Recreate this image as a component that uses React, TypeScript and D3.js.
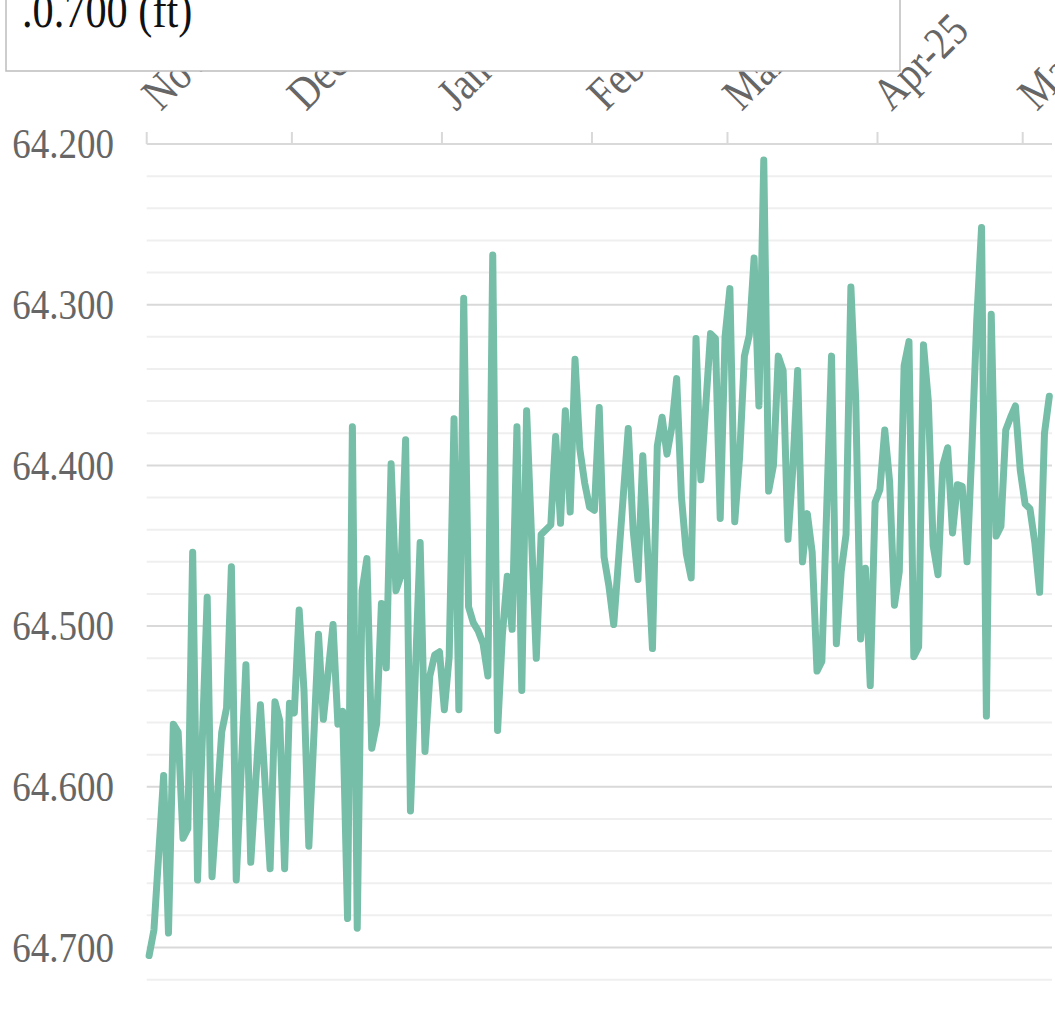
import * as d3 from 'd3';
import { useEffect, useRef } from 'react';

// daily readings (only the days that show as vertices in the source)
const dates: string[] = [
    "2024-11-01", "2024-11-02", "2024-11-04", "2024-11-05", "2024-11-06", "2024-11-07", "2024-11-08", "2024-11-09",
    "2024-11-10", "2024-11-11", "2024-11-13", "2024-11-14", "2024-11-16", "2024-11-17", "2024-11-18", "2024-11-19",
    "2024-11-21", "2024-11-22", "2024-11-24", "2024-11-26", "2024-11-27", "2024-11-28", "2024-11-29", "2024-11-30",
    "2024-12-01", "2024-12-02", "2024-12-03", "2024-12-04", "2024-12-06", "2024-12-07", "2024-12-09", "2024-12-10",
    "2024-12-11", "2024-12-12", "2024-12-13", "2024-12-14", "2024-12-15", "2024-12-16", "2024-12-17", "2024-12-18",
    "2024-12-19", "2024-12-20", "2024-12-21", "2024-12-22", "2024-12-23", "2024-12-24", "2024-12-25", "2024-12-26",
    "2024-12-27", "2024-12-28", "2024-12-29", "2024-12-30", "2024-12-31",
    "2025-01-01", "2025-01-02", "2025-01-03", "2025-01-04", "2025-01-05", "2025-01-06", "2025-01-07", "2025-01-08",
    "2025-01-09", "2025-01-10", "2025-01-11", "2025-01-12", "2025-01-13", "2025-01-14", "2025-01-15", "2025-01-16",
    "2025-01-17", "2025-01-18", "2025-01-20", "2025-01-21", "2025-01-23", "2025-01-24", "2025-01-25", "2025-01-26",
    "2025-01-27", "2025-01-28", "2025-01-29", "2025-01-30", "2025-01-31",
    "2025-02-01", "2025-02-02", "2025-02-03", "2025-02-04", "2025-02-05", "2025-02-08", "2025-02-09", "2025-02-10",
    "2025-02-11", "2025-02-13", "2025-02-14", "2025-02-15", "2025-02-16", "2025-02-17", "2025-02-18", "2025-02-19",
    "2025-02-20", "2025-02-21", "2025-02-22", "2025-02-23", "2025-02-25", "2025-02-26", "2025-02-27", "2025-02-28",
    "2025-03-01", "2025-03-02", "2025-03-03", "2025-03-04", "2025-03-05", "2025-03-06", "2025-03-07", "2025-03-08",
    "2025-03-09", "2025-03-10", "2025-03-11", "2025-03-12", "2025-03-13", "2025-03-14", "2025-03-15", "2025-03-16",
    "2025-03-17", "2025-03-18", "2025-03-19", "2025-03-20", "2025-03-22", "2025-03-23", "2025-03-24", "2025-03-25",
    "2025-03-26", "2025-03-27", "2025-03-28", "2025-03-29", "2025-03-30", "2025-03-31",
    "2025-04-01", "2025-04-02", "2025-04-03", "2025-04-04", "2025-04-05", "2025-04-06", "2025-04-07", "2025-04-08",
    "2025-04-09", "2025-04-10", "2025-04-11", "2025-04-12", "2025-04-13", "2025-04-14", "2025-04-15", "2025-04-16",
    "2025-04-17", "2025-04-18", "2025-04-19", "2025-04-20", "2025-04-21", "2025-04-22", "2025-04-23", "2025-04-24",
    "2025-04-25", "2025-04-26", "2025-04-27", "2025-04-28", "2025-04-29", "2025-04-30",
    "2025-05-01", "2025-05-02", "2025-05-03", "2025-05-04", "2025-05-05", "2025-05-06",
];

// depth to water (ft)
const levels: number[] = [
    64.705, 64.689, 64.593, 64.691, 64.561, 64.566, 64.632, 64.626,
    64.454, 64.658, 64.482, 64.656, 64.566, 64.551, 64.463, 64.658,
    64.524, 64.647, 64.549, 64.651, 64.547, 64.559, 64.651, 64.548,
    64.554, 64.490, 64.540, 64.637, 64.505, 64.558, 64.499, 64.561,
    64.553, 64.682, 64.376, 64.688, 64.478, 64.458, 64.576, 64.561,
    64.486, 64.526, 64.399, 64.478, 64.469, 64.384, 64.615, 64.530,
    64.448, 64.578, 64.531, 64.518, 64.516,
    64.552, 64.519, 64.371, 64.552, 64.296, 64.488, 64.498, 64.503,
    64.511, 64.531, 64.269, 64.565, 64.505, 64.469, 64.502, 64.376,
    64.540, 64.366, 64.520, 64.443, 64.437, 64.382, 64.436, 64.366,
    64.429, 64.334, 64.390, 64.411, 64.426,
    64.428, 64.364, 64.457, 64.475, 64.499, 64.377, 64.440, 64.471,
    64.394, 64.514, 64.388, 64.370, 64.393, 64.376, 64.346, 64.420,
    64.455, 64.470, 64.321, 64.409, 64.318, 64.321, 64.433, 64.320,
    64.290, 64.435, 64.395, 64.332, 64.319, 64.271, 64.363, 64.210,
    64.416, 64.400, 64.332, 64.341, 64.446, 64.402, 64.341, 64.460,
    64.430, 64.454, 64.528, 64.522, 64.332, 64.511, 64.466, 64.443,
    64.289, 64.359, 64.508, 64.464, 64.537, 64.423,
    64.415, 64.378, 64.410, 64.487, 64.466, 64.338, 64.323, 64.519,
    64.513, 64.325, 64.360, 64.450, 64.468, 64.400, 64.389, 64.442,
    64.412, 64.413, 64.460, 64.390, 64.310, 64.252, 64.556, 64.306,
    64.444, 64.438, 64.378, 64.370, 64.363, 64.403,
    64.424, 64.427, 64.448, 64.479, 64.380, 64.357,
];

const monthLabels: string[] = ["Nov-24", "Dec-24", "Jan-25", "Feb-25", "Mar-25", "Apr-25", "May-25"];
const yTicks: number[] = [64.2, 64.3, 64.4, 64.5, 64.6, 64.7];
const tooltipText = ".0.700 (ft)";

const font = '"Liberation Serif", "Times New Roman", serif';

const App = () => {
    const ref = useRef<SVGSVGElement>(null);

    useEffect(() => {
        const width = 1055;
        const height = 1031;
        const left = 146.7;
        const right = 1052;

        const svg = d3.select(ref.current);
        svg.selectAll('*').remove();
        svg.attr('width', width).attr('height', height);

        const parse = d3.timeParse('%Y-%m-%d');
        const data = dates.map((d, i) => ({ date: d3.timeHour.offset(parse(d) as Date, 12), value: levels[i] }));

        const x = d3.scaleTime()
            .domain([new Date(2024, 10, 1), new Date(2025, 4, 1)])
            .range([left, 1022.7]);
        const y = d3.scaleLinear().domain([64.2, 64.7]).range([144, 947.5]);

        // grid lines, minor every 0.02 and major every 0.1
        const grid = d3.range(0, 27).map(i => +(64.2 + i * 0.02).toFixed(2));
        svg.append('g')
            .selectAll('line')
            .data(grid)
            .enter()
            .append('line')
            .attr('x1', left)
            .attr('x2', right)
            .attr('y1', (d: number) => y(d))
            .attr('y2', (d: number) => y(d))
            .attr('stroke', (d: number) => (Math.round(d * 100) % 10 === 0 ? '#d9d9d9' : '#efefef'))
            .attr('stroke-width', 2);

        // month ticks on top axis
        const months = d3.timeMonth.range(new Date(2024, 10, 1), new Date(2025, 4, 2));
        svg.append('g')
            .selectAll('line')
            .data(months)
            .enter()
            .append('line')
            .attr('x1', (d: Date) => x(d))
            .attr('x2', (d: Date) => x(d))
            .attr('y1', 132)
            .attr('y2', 144)
            .attr('stroke', '#d9d9d9')
            .attr('stroke-width', 2);

        svg.append('g')
            .selectAll('text')
            .data(months)
            .enter()
            .append('text')
            .attr('transform', (d: Date) => `translate(${x(d) + 14},112) rotate(-45) scale(0.93,1.1)`)
            .text((d: Date, i: number) => monthLabels[i])
            .style('font-family', font)
            .style('font-size', '42px')
            .style('fill', '#666');

        // y labels
        svg.append('g')
            .selectAll('text')
            .data(yTicks)
            .enter()
            .append('text')
            .attr('transform', (d: number) => `translate(114,${y(d)}) scale(0.95,1.08)`)
            .attr('dy', '0.34em')
            .attr('text-anchor', 'end')
            .text((d: number) => d3.format('.3f')(d))
            .style('font-family', font)
            .style('font-size', '39px')
            .style('fill', '#666');

        const line = d3.line<any>()
            .x((d: any) => x(d.date))
            .y((d: any) => y(d.value));

        svg.append('path')
            .datum(data)
            .attr('d', line)
            .attr('fill', 'none')
            .attr('stroke', '#76bea7')
            .attr('stroke-width', 7)
            .attr('stroke-linejoin', 'round')
            .attr('stroke-linecap', 'round');

        // tooltip box (cut at the top of the page)
        svg.append('rect')
            .attr('x', 6)
            .attr('y', -10)
            .attr('width', 894)
            .attr('height', 81)
            .attr('fill', '#fff')
            .attr('stroke', '#bdbdbd')
            .attr('stroke-width', 1.5);
        svg.append('text')
            .attr('transform', 'translate(22,27) scale(0.92,1.1)')
            .text(tooltipText)
            .style('font-family', font)
            .style('font-size', '46px')
            .style('fill', '#111');
    }, []);

    return (
        <svg ref={ref} style={{ position: 'absolute', left: 0, top: 0, display: 'block' }} />
    );
};

export default App;
